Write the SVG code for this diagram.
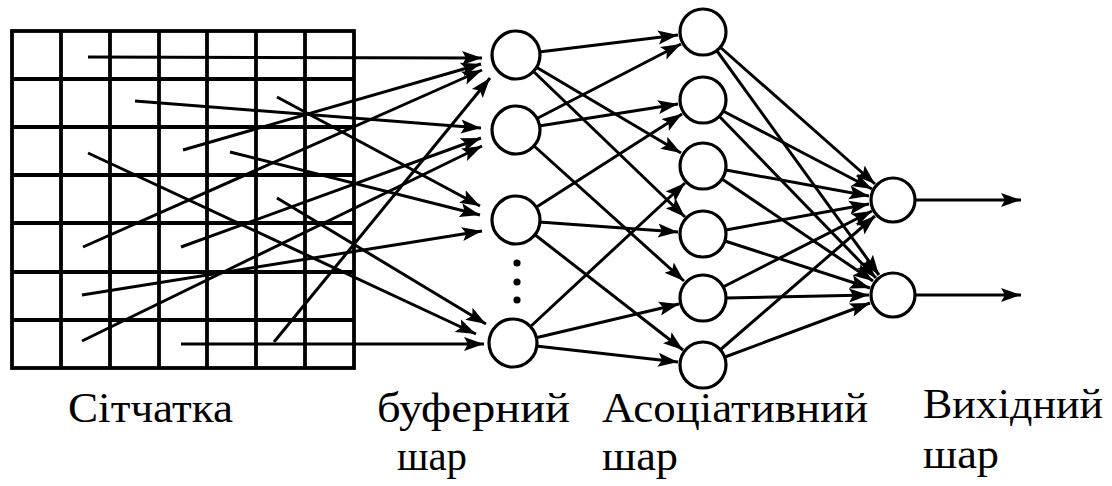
<svg xmlns="http://www.w3.org/2000/svg" width="1112" height="486" viewBox="0 0 1112 486">
<style>
.grid{stroke:#000;stroke-width:3.8;fill:none}
.node{fill:#fff;stroke:#000;stroke-width:3.2}
.c{stroke:#000;stroke-width:3;fill:none;marker-end:url(#ah)}
.lbl{font-family:"Liberation Serif","Times New Roman",serif;font-size:43px;fill:#000}
</style>
<defs>
<marker id="ah" markerUnits="userSpaceOnUse" markerWidth="22" markerHeight="16" refX="20" refY="8" orient="auto">
<path d="M0,1 L20,8 L0,15 L4,8 z" fill="#000"/>
</marker>
</defs>
<rect width="1112" height="486" fill="#fff"/>
<g id="retina" class="grid">
<rect x="12" y="31" width="342" height="337"/>
<path d="M61,31V368M110,31V368M159,31V368M207,31V368M256,31V368M305,31V368"/>
<path d="M12,79H354M12,127H354M12,175H354M12,223H354M12,272H354M12,320H354"/>
</g>
<g id="connectors">
<line class="c" x1="88" y1="57" x2="482" y2="58"/>
<line class="c" x1="183" y1="150" x2="481" y2="64"/>
<line class="c" x1="83" y1="247" x2="482" y2="70"/>
<line class="c" x1="274" y1="342" x2="490" y2="78"/>
<line class="c" x1="135" y1="101" x2="481" y2="128"/>
<line class="c" x1="181" y1="247" x2="481" y2="138"/>
<line class="c" x1="82" y1="341" x2="482" y2="146"/>
<line class="c" x1="277" y1="97" x2="480" y2="206"/>
<line class="c" x1="230" y1="152" x2="480" y2="215"/>
<line class="c" x1="82" y1="295" x2="482" y2="231"/>
<line class="c" x1="88" y1="153" x2="476" y2="334"/>
<line class="c" x1="277" y1="198" x2="486" y2="324"/>
<line class="c" x1="181" y1="344" x2="484" y2="344"/>
<line class="c" x1="539" y1="52" x2="678" y2="35"/>
<line class="c" x1="536" y1="67" x2="681" y2="153"/>
<line class="c" x1="533" y1="71" x2="685" y2="217"/>
<line class="c" x1="536" y1="119" x2="681" y2="44"/>
<line class="c" x1="539" y1="126" x2="678" y2="104"/>
<line class="c" x1="533" y1="145" x2="684" y2="281"/>
<line class="c" x1="535" y1="208" x2="682" y2="114"/>
<line class="c" x1="539" y1="222" x2="678" y2="232"/>
<line class="c" x1="534" y1="234" x2="683" y2="350"/>
<line class="c" x1="530" y1="327" x2="685" y2="183"/>
<line class="c" x1="535" y1="338" x2="679" y2="304"/>
<line class="c" x1="536" y1="346" x2="678" y2="362"/>
<line class="c" x1="720" y1="47" x2="875" y2="184"/>
<line class="c" x1="717" y1="51" x2="879" y2="275"/>
<line class="c" x1="723" y1="111" x2="872" y2="189"/>
<line class="c" x1="719" y1="116" x2="876" y2="278"/>
<line class="c" x1="726" y1="170" x2="869" y2="196"/>
<line class="c" x1="722" y1="179" x2="873" y2="281"/>
<line class="c" x1="726" y1="230" x2="869" y2="204"/>
<line class="c" x1="725" y1="241" x2="870" y2="288"/>
<line class="c" x1="723" y1="287" x2="872" y2="211"/>
<line class="c" x1="726" y1="298" x2="869" y2="295"/>
<line class="c" x1="720" y1="350" x2="875" y2="216"/>
<line class="c" x1="725" y1="357" x2="870" y2="303"/>
<line class="c" x1="916" y1="200" x2="1021" y2="200"/>
<line class="c" x1="916" y1="295" x2="1021" y2="295"/>
</g>
<g id="buffer1"><circle class="node" cx="516" cy="55" r="24"/></g>
<g id="buffer2"><circle class="node" cx="516" cy="130" r="24"/></g>
<g id="buffer3"><circle class="node" cx="516" cy="220" r="24"/></g>
<g id="buffer4"><circle class="node" cx="513" cy="343" r="24"/></g>
<g id="buffer-dots" fill="#000">
<circle cx="517" cy="263" r="3.6"/><circle cx="517" cy="282" r="3.6"/><circle cx="517" cy="300" r="3.6"/>
</g>
<g id="assoc1"><circle class="node" cx="703" cy="32" r="23"/></g>
<g id="assoc2"><circle class="node" cx="703" cy="100" r="23"/></g>
<g id="assoc3"><circle class="node" cx="703" cy="166" r="23"/></g>
<g id="assoc4"><circle class="node" cx="703" cy="234" r="23"/></g>
<g id="assoc5"><circle class="node" cx="703" cy="298" r="23"/></g>
<g id="assoc6"><circle class="node" cx="703" cy="365" r="23"/></g>
<g id="out1"><circle class="node" cx="893" cy="200" r="22"/></g>
<g id="out2"><circle class="node" cx="893" cy="295" r="22"/></g>
<g id="labels">
<text class="lbl" x="68" y="422" textLength="165" lengthAdjust="spacingAndGlyphs">Сітчатка</text>
<text class="lbl" x="377" y="422" textLength="193" lengthAdjust="spacingAndGlyphs">буферний</text>
<text class="lbl" x="397" y="470" textLength="70" lengthAdjust="spacingAndGlyphs">шар</text>
<text class="lbl" x="602" y="422" textLength="266" lengthAdjust="spacingAndGlyphs">Асоціативний</text>
<text class="lbl" x="602" y="470" textLength="76" lengthAdjust="spacingAndGlyphs">шар</text>
<text class="lbl" x="923" y="418" textLength="180" lengthAdjust="spacingAndGlyphs">Вихідний</text>
<text class="lbl" x="923" y="468" textLength="76" lengthAdjust="spacingAndGlyphs">шар</text>
</g>
</svg>
